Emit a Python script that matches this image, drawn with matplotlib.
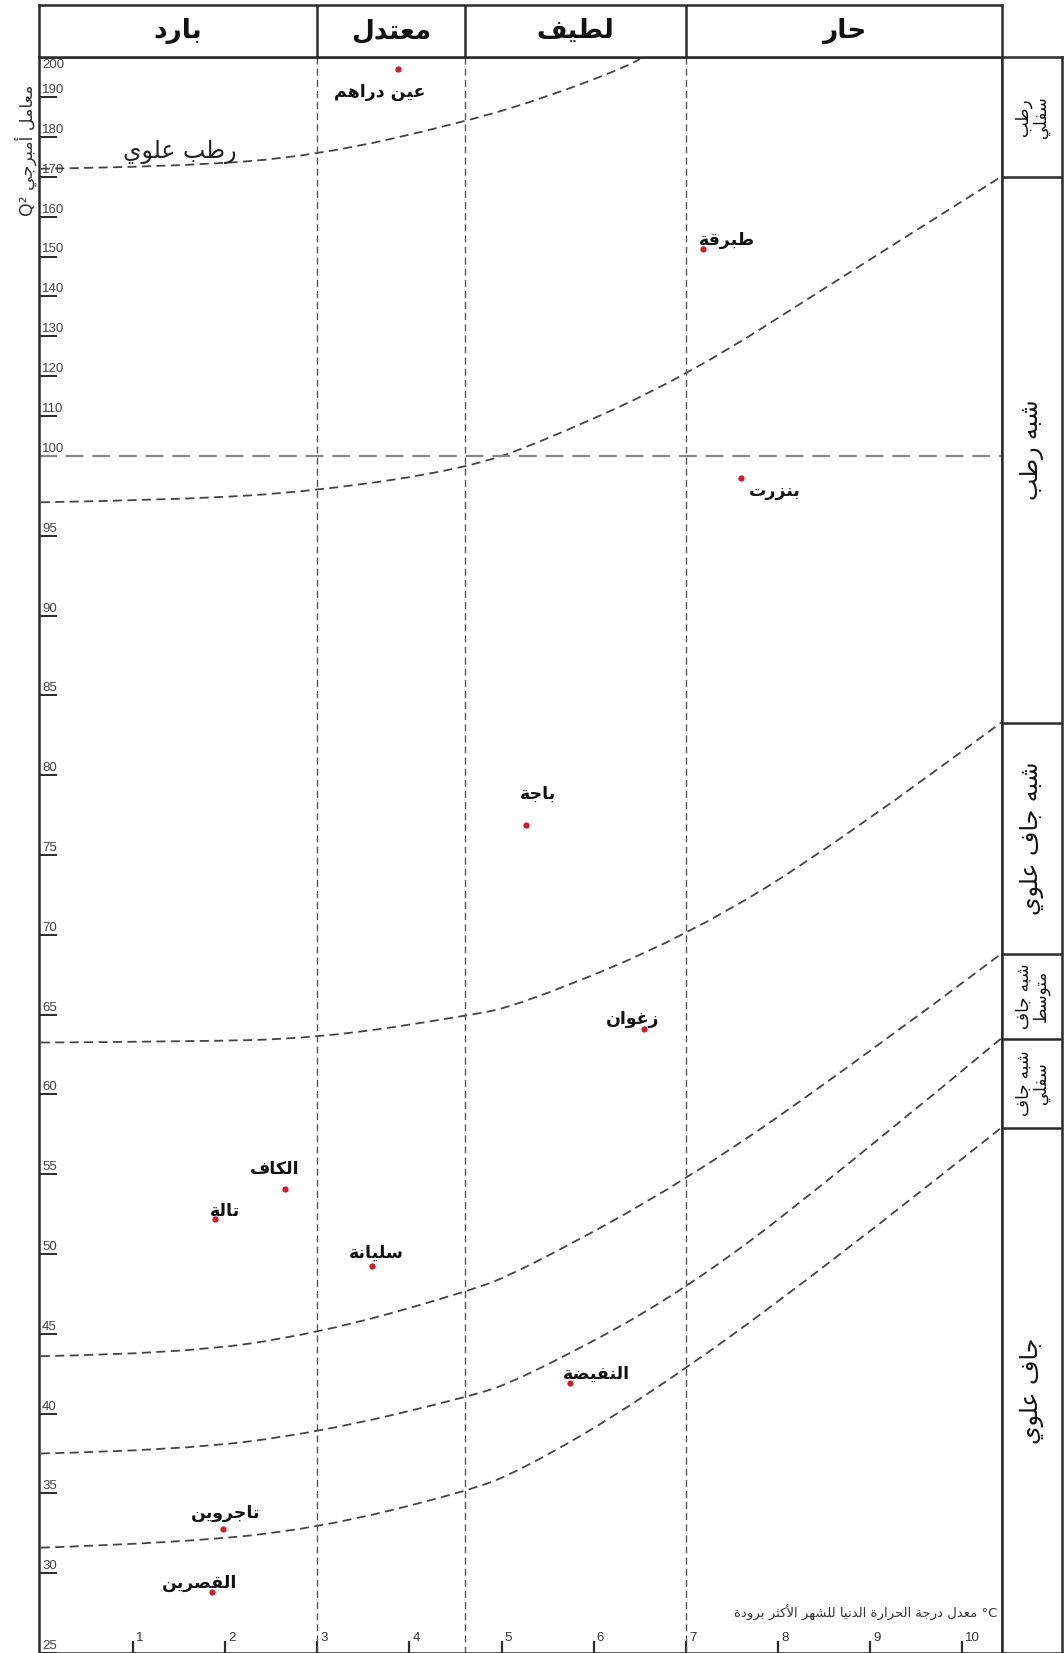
import numpy as np
import matplotlib
matplotlib.use("Agg")
import matplotlib.pyplot as plt
from matplotlib.path import Path
from matplotlib.patches import PathPatch

plt.rcParams['font.family'] = ['DejaVu Sans']

# ---- data ----
# thermal classes (top header) and their limits on m (°C)
thermal_names = ['بارد', 'معتدل', 'لطيف', 'حار']
thermal_limits = [3.0, 4.6, 7.0]

# stations: m (°C), Q2
stations = ['عين دراهم', 'طبرقة', 'بنزرت', 'باجة', 'زغوان', 'الكاف', 'تالة',
            'سليانة', 'النفيضة', 'تاجروين', 'القصرين']
st_m = [3.88, 7.18, 7.60, 5.26, 6.55, 2.65, 1.89, 3.59, 5.74, 1.98, 1.86]
st_q = [197.0, 152.0, 98.6, 76.9, 64.1, 54.1, 52.2, 49.25, 41.9, 32.8, 28.8]
# label offsets (pixels) from each point
st_dx = [-19, 24, 34, 12, -12, -10, 10, 5, 27, 2, -13]
st_dy = [-23, 9, -13, 31, 10, 20, 8, 13, 9, 16, 9]

# bioclimatic limit curves (m, Q2)
curve_a_m = [0.0, 1.5, 3.0, 4.61, 5.53, 6.43, 6.5]
curve_a_q = [172.0, 172.5, 175.25, 183.75, 190.25, 198.25, 199.5]
curve_b_m = [0.0, 1.5, 3.0, 4.61, 5.46, 7.01, 8.72, 10.42]
curve_b_q = [97.1, 97.25, 97.8, 99.2, 103.75, 120.0, 145.25, 170.0]
curve_c_m = [0.0, 1.5, 3.0, 4.61, 5.2, 7.01, 8.72, 10.42]
curve_c_q = [63.25, 63.3, 63.5, 64.9, 65.6, 69.9, 76.0, 83.3]
curve_d_m = [0.0, 1.5, 3.0, 4.61, 5.2, 7.01, 8.94, 10.42]
curve_d_q = [43.6, 43.75, 45.0, 47.6, 48.9, 54.6, 62.4, 68.8]
curve_e_m = [0.0, 1.5, 3.0, 4.61, 5.2, 7.01, 8.94, 10.42]
curve_e_q = [37.5, 37.7, 38.8, 41.0, 42.1, 47.7, 56.4, 63.5]
curve_f_m = [0.0, 1.5, 3.0, 4.61, 5.2, 6.51, 8.46, 10.42]
curve_f_q = [31.6, 31.9, 32.8, 35.1, 36.4, 40.8, 48.9, 57.9]

# humidity zones in the right column (bounds in Q2)
zone_names = ['رطب\nسفلي', 'شبه رطب', 'شبه جاف علوي', 'شبه جاف\nمتوسط',
              'شبه جاف\nسفلي', 'جاف علوي']
zone_bounds = [200, 170.0, 83.3, 68.8, 63.5, 57.9, 25]

x_ticks = [1, 2, 3, 4, 5, 6, 7, 8, 9, 10]
y_ticks = [200, 190, 180, 170, 160, 150, 140, 130, 120, 110, 100,
           95, 90, 85, 80, 75, 70, 65, 60, 55, 50, 45, 40, 35, 30, 25]


# ---- simple arabic shaping (presentation forms + visual order) ----
FORMS = {
    'ء': ('\uFE80', None, None, None),
    'آ': ('\uFE81', '\uFE82', None, None),
    'أ': ('\uFE83', '\uFE84', None, None),
    'ؤ': ('\uFE85', '\uFE86', None, None),
    'إ': ('\uFE87', '\uFE88', None, None),
    'ئ': ('\uFE89', '\uFE8A', '\uFE8B', '\uFE8C'),
    'ا': ('\uFE8D', '\uFE8E', None, None),
    'ب': ('\uFE8F', '\uFE90', '\uFE91', '\uFE92'),
    'ة': ('\uFE93', '\uFE94', None, None),
    'ت': ('\uFE95', '\uFE96', '\uFE97', '\uFE98'),
    'ث': ('\uFE99', '\uFE9A', '\uFE9B', '\uFE9C'),
    'ج': ('\uFE9D', '\uFE9E', '\uFE9F', '\uFEA0'),
    'ح': ('\uFEA1', '\uFEA2', '\uFEA3', '\uFEA4'),
    'خ': ('\uFEA5', '\uFEA6', '\uFEA7', '\uFEA8'),
    'د': ('\uFEA9', '\uFEAA', None, None),
    'ذ': ('\uFEAB', '\uFEAC', None, None),
    'ر': ('\uFEAD', '\uFEAE', None, None),
    'ز': ('\uFEAF', '\uFEB0', None, None),
    'س': ('\uFEB1', '\uFEB2', '\uFEB3', '\uFEB4'),
    'ش': ('\uFEB5', '\uFEB6', '\uFEB7', '\uFEB8'),
    'ص': ('\uFEB9', '\uFEBA', '\uFEBB', '\uFEBC'),
    'ض': ('\uFEBD', '\uFEBE', '\uFEBF', '\uFEC0'),
    'ط': ('\uFEC1', '\uFEC2', '\uFEC3', '\uFEC4'),
    'ظ': ('\uFEC5', '\uFEC6', '\uFEC7', '\uFEC8'),
    'ع': ('\uFEC9', '\uFECA', '\uFECB', '\uFECC'),
    'غ': ('\uFECD', '\uFECE', '\uFECF', '\uFED0'),
    'ف': ('\uFED1', '\uFED2', '\uFED3', '\uFED4'),
    'ق': ('\uFED5', '\uFED6', '\uFED7', '\uFED8'),
    'ك': ('\uFED9', '\uFEDA', '\uFEDB', '\uFEDC'),
    'ل': ('\uFEDD', '\uFEDE', '\uFEDF', '\uFEE0'),
    'م': ('\uFEE1', '\uFEE2', '\uFEE3', '\uFEE4'),
    'ن': ('\uFEE5', '\uFEE6', '\uFEE7', '\uFEE8'),
    'ه': ('\uFEE9', '\uFEEA', '\uFEEB', '\uFEEC'),
    'و': ('\uFEED', '\uFEEE', None, None),
    'ى': ('\uFEEF', '\uFEF0', None, None),
    'ي': ('\uFEF1', '\uFEF2', '\uFEF3', '\uFEF4'),
}
LAM_ALEF = {'آ': ('\uFEF5', '\uFEF6'), 'أ': ('\uFEF7', '\uFEF8'),
            'إ': ('\uFEF9', '\uFEFA'), 'ا': ('\uFEFB', '\uFEFC')}


def joins_next(c):
    return c in FORMS and FORMS[c][2] is not None


def shape_line(s):
    out = []
    i = 0
    n = len(s)
    while i < n:
        c = s[i]
        if c not in FORMS:
            out.append(c)
            i += 1
            continue
        link_prev = i > 0 and joins_next(s[i - 1])
        if c == 'ل' and i + 1 < n and s[i + 1] in LAM_ALEF:
            out.append(LAM_ALEF[s[i + 1]][1 if link_prev else 0])
            i += 2
            continue
        link_next = joins_next(c) and i + 1 < n and s[i + 1] in FORMS
        iso, fin, ini, med = FORMS[c]
        if link_prev and link_next:
            g = med
        elif link_prev:
            g = fin
        elif link_next:
            g = ini
        else:
            g = iso
        out.append(g)
        i += 1
    return ''.join(out)[::-1]


def ar(s):
    return '\n'.join(shape_line(line) for line in s.split('\n'))


# piecewise scale: 100..200 compressed by 4
def fwd(q):
    q = np.asarray(q, dtype=float)
    return np.where(q <= 100, q, 100 + (q - 100) / 4.0)


def inv(t):
    t = np.asarray(t, dtype=float)
    return np.where(t <= 100, t, 100 + (t - 100) * 4.0)


def smooth_path(xs, qs):
    # quadratic bezier chain through the read points (control points = readings)
    xs = list(xs)
    ts = list(fwd(qs))
    verts = [(xs[0], ts[0])]
    codes = [Path.MOVETO]
    n = len(xs)
    for i in range(1, n - 1):
        if i < n - 2:
            end = ((xs[i] + xs[i + 1]) / 2, (ts[i] + ts[i + 1]) / 2)
        else:
            end = (xs[i + 1], ts[i + 1])
        verts += [(xs[i], ts[i]), end]
        codes += [Path.CURVE3, Path.CURVE3]
    verts = [(vx, float(inv(vt))) for vx, vt in verts]
    return Path(verts, codes)


W, H = 1064, 1653
fig = plt.figure(figsize=(W / 100, H / 100), dpi=100)
fig.patch.set_facecolor('white')

L, R, TOP, HEAD, RC = 39, 1002, 57, 5, 1062
frame_c = '#2b2b2b'
ax = fig.add_axes([L / W, 0, (R - L) / W, (H - TOP) / H])
ax.set_yscale('function', functions=(fwd, inv))
ax.set_xlim(-0.02, 10.43)
ax.set_ylim(25, 200)

# header with thermal classes
axh = fig.add_axes([L / W, 1 - TOP / H, (R - L) / W, (TOP - HEAD) / H], sharex=ax)
axh.set_ylim(0, 1)
axh.tick_params(left=False, bottom=False, labelleft=False, labelbottom=False)
edges = [-0.02] + thermal_limits + [10.43]
for xv in thermal_limits:
    axh.axvline(xv, color=frame_c, lw=1.8)
for k, name in enumerate(thermal_names):
    axh.text((edges[k] + edges[k + 1]) / 2, 0.5, ar(name), ha='center', va='center',
             fontsize=19, fontweight='bold', color='#111')

# right column with humidity zones
axr = fig.add_axes([R / W, 0, (RC - R) / W, (H - TOP) / H], sharey=ax)
axr.set_xlim(0, 1)
axr.tick_params(left=False, bottom=False, labelleft=False, labelbottom=False)
for qb in zone_bounds[1:-1]:
    axr.axhline(qb, color=frame_c, lw=1.8)
for k, name in enumerate(zone_names):
    mid = float(inv((fwd(zone_bounds[k]) + fwd(zone_bounds[k + 1])) / 2))
    two = '\n' in name
    axr.text(0.5, mid, ar(name), ha='center', va='center', rotation=90,
             fontsize=12 if two else 17, linespacing=0.95, color='#111')

for a in (ax, axh, axr):
    for sp in a.spines.values():
        sp.set_color(frame_c)
        sp.set_linewidth(1.8)

# thermal limits and Q2 = 100 line
for xv in thermal_limits:
    ax.axvline(xv, color='#555', lw=1.0, dashes=(5, 3))
ax.axhline(100, color='#888', lw=1.6, dashes=(8, 4))

# limit curves
for cm, cq in [(curve_a_m, curve_a_q), (curve_b_m, curve_b_q), (curve_c_m, curve_c_q),
               (curve_d_m, curve_d_q), (curve_e_m, curve_e_q), (curve_f_m, curve_f_q)]:
    ax.add_patch(PathPatch(smooth_path(cm, cq), fill=False, edgecolor='#444',
                           lw=1.3, linestyle=(0, (5, 3))))

ax.text(1.51, 176.3, ar('رطب علوي'), ha='center', va='center', fontsize=17, color='#222')

# stations
ax.plot(st_m, st_q, 'o', color='#d3182a', ms=4.5, mec='none', zorder=5)
for name, m, q, dx, dy in zip(stations, st_m, st_q, st_dx, st_dy):
    ax.annotate(ar(name), xy=(m, q), xytext=(dx, dy), textcoords='offset pixels',
                ha='center', va='center', fontsize=12.5, fontweight='bold', color='#111')

# ticks
ax.set_xticks(x_ticks)
ax.set_yticks(y_ticks)
ax.tick_params(axis='x', direction='in', length=9, width=1.6, color=frame_c,
               labelbottom=False)
ax.tick_params(axis='y', direction='in', length=13, width=1.4, color=frame_c,
               labelleft=False)
ax.minorticks_off()
for xv in x_ticks:
    ax.annotate(str(xv), xy=(xv, 0), xycoords=ax.get_xaxis_transform(),
                xytext=(3, 9), textcoords='offset pixels', ha='left', va='bottom',
                fontsize=9.5, color='#333', family=['Liberation Sans'])
for yv in y_ticks:
    top = yv == y_ticks[0]
    ax.annotate(str(yv), xy=(0, yv), xycoords=ax.get_yaxis_transform(),
                xytext=(3, -2 if top else 1), textcoords='offset pixels', ha='left',
                va='top' if top else 'bottom',
                fontsize=9.5, color='#444', family=['Liberation Sans'])

# axis titles
fig.text(26 / W, 1 - 150 / H, 'Q² ' + ar('معامل أمبرجي'), rotation=90,
         ha='center', va='center', fontsize=12.5, color='#333')
fig.text(997 / W, 1 - 1613 / H, ar('معدل درجة الحرارة الدنيا للشهر الأكثر برودة') + ' °C',
         ha='right', va='center', fontsize=9.5, color='#333')

fig.savefig('out.png', dpi=100, facecolor='white')
